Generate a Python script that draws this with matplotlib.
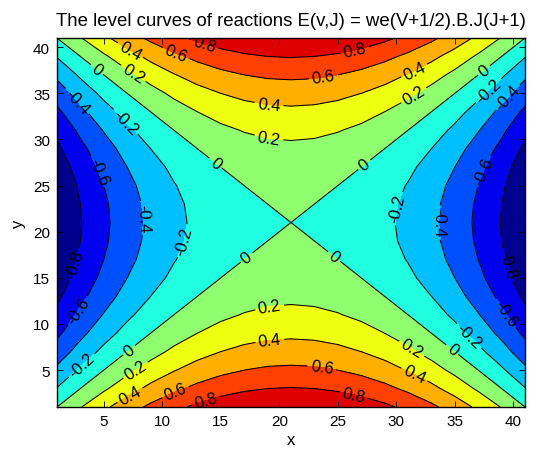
import numpy as np
import matplotlib
matplotlib.use("Agg")
import matplotlib.pyplot as plt
from matplotlib.colors import ListedColormap, BoundaryNorm

# ---- data ----
# sample positions along each axis
sample_x = [1, 3, 5, 7, 9, 11, 13, 15, 17, 19, 21, 23, 25, 27, 29, 31, 33, 35, 37, 39, 41]
sample_y = [1, 3, 5, 7, 9, 11, 13, 15, 17, 19, 21, 23, 25, 27, 29, 31, 33, 35, 37, 39, 41]
# value profile along the vertical centre line (x = 21), read from the level crossings
rise_along_y = [1.00, 0.81, 0.64, 0.49, 0.36, 0.25, 0.16, 0.09, 0.04, 0.01, 0.00,
                0.01, 0.04, 0.09, 0.16, 0.25, 0.36, 0.49, 0.64, 0.81, 1.00]
# drop profile along the horizontal centre line (y = 21), read from the level crossings
drop_along_x = [1.00, 0.81, 0.64, 0.49, 0.36, 0.25, 0.16, 0.09, 0.04, 0.01, 0.00,
                0.01, 0.04, 0.09, 0.16, 0.25, 0.36, 0.49, 0.64, 0.81, 1.00]
levels = [-1.0, -0.8, -0.6, -0.4, -0.2, 0.0, 0.2, 0.4, 0.6, 0.8, 1.0]
tick_values = [5, 10, 15, 20, 25, 30, 35, 40]
title_text = "The level curves of reactions E(v,J) = we(V+1/2).B.J(J+1)"

# label positions (data coordinates) of the inline level labels
label_positions = [
    (7.1, 39.3), (11.1, 39.1), (13.5, 40.0), (4.25, 37.3), (7.4, 36.9),
    (2.4, 33.8), (6.7, 31.7), (4.25, 26.4), (19.1, 33.5), (19.1, 29.9),
    (14.4, 27.2), (8.4, 21.5), (11.8, 19.0), (2.4, 16.5), (3.0, 11.3),
    (3.4, 5.1), (7.2, 7.1), (7.8, 4.8), (7.4, 1.9), (11.2, 2.4),
    (13.8, 1.3), (17.4, 16.9), (19.2, 11.4), (19.2, 8.0),
    (26.5, 39.5), (23.8, 36.6), (31.6, 37.3), (31.6, 34.6), (27.3, 27.2),
    (37.6, 37.3), (38.0, 35.1), (39.7, 34.4), (37.7, 26.4), (30.3, 22.5),
    (33.3, 21.0), (24.5, 17.0), (39.2, 16.3), (39.0, 10.9), (36.0, 8.4),
    (34.6, 6.9), (31.2, 7.1), (31.5, 4.4), (23.6, 4.9), (26.3, 2.05),
]

# ---- build grid ----
X, Y = np.meshgrid(sample_x, sample_y)
Z = np.array(rise_along_y)[:, None] - np.array(drop_along_x)[None, :]

band_colors = [
    (0.0, 0.0, 0.5625), (0.0, 0.0, 0.9375), (0.0, 0.3125, 1.0), (0.0, 0.75, 1.0),
    (0.125, 1.0, 0.875), (0.5625, 1.0, 0.4375), (0.9375, 1.0, 0.0625),
    (1.0, 0.6875, 0.0), (1.0, 0.25, 0.0), (0.875, 0.0, 0.0),
]
cmap = ListedColormap(band_colors)
norm = BoundaryNorm(levels, cmap.N)

plt.rcParams['font.family'] = ['Liberation Sans', 'DejaVu Sans']
plt.rcParams['axes.unicode_minus'] = False
plt.rcParams['contour.negative_linestyle'] = 'solid'

fig = plt.figure(figsize=(5.39, 4.52), dpi=100)
ax = fig.add_axes([57 / 539, 1 - 408 / 452, (525 - 57) / 539, (408 - 39) / 452])

ax.contourf(X, Y, Z, levels=levels, cmap=cmap, norm=norm)
cs = ax.contour(X, Y, Z, levels=levels[1:-1], colors='black', linewidths=0.75,
                linestyles='solid')


def fmt(v):
    v = round(v, 1)
    if v == 0:
        return "0"
    return "%g" % v


ax.clabel(cs, fmt=fmt, fontsize=12, manual=label_positions, inline=True,
          inline_spacing=3)

ax.set_xlim(1, 41)
ax.set_ylim(1, 41)
ax.set_xticks(tick_values)
ax.set_yticks(tick_values)
ax.tick_params(direction='in', top=True, right=True, length=4, width=0.6,
               labelsize=11, colors='black', pad=5)
for s in ax.spines.values():
    s.set_linewidth(1.0)
    s.set_color('black')

ax.set_title(title_text, fontsize=13.4, pad=9)
ax.set_xlabel('x', fontsize=12, labelpad=3)
ax.set_ylabel('y', fontsize=12, labelpad=5)

fig.savefig('out.png', dpi=100)
